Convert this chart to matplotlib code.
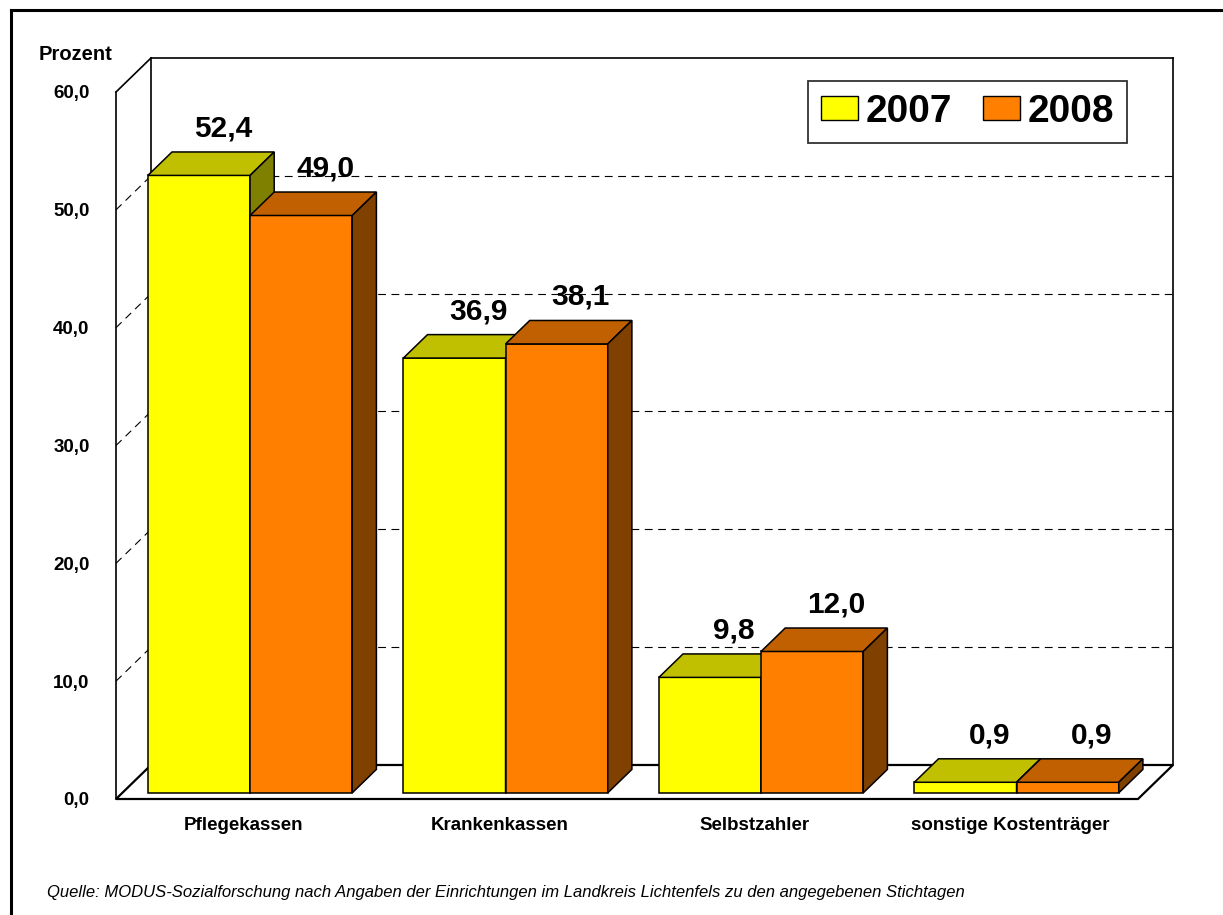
import matplotlib
matplotlib.use('Agg')
import matplotlib.pyplot as plt
from matplotlib.patches import Polygon, Patch
from matplotlib.lines import Line2D

plt.rcParams['font.family'] = ['Liberation Sans', 'DejaVu Sans']

categories = ['Pflegekassen', 'Krankenkassen', 'Selbstzahler',
              'sonstige Kostenträger']
years = ['2007', '2008']
values_2007 = [52.4, 36.9, 9.8, 0.9]
values_2008 = [49.0, 38.1, 12.0, 0.9]
yticks = [0, 10, 20, 30, 40, 50, 60]

front_colors = ['#FFFF00', '#FF8000']
top_colors = ['#C0C000', '#C06000']
side_colors = ['#808000', '#804000']

# depth of the pseudo-3D box, in data units (categories / percent)
DX = 0.137
DY = 2.886
ZF, ZB = 0.18, 0.87   # front and back depth of the bars


def proj(x, v, z):
    return x + z * DX, v + z * DY


def face(ax, pts, fc, zorder, lw=1.1, ec='black'):
    xy = [proj(*p) for p in pts]
    ax.add_patch(Polygon(xy, closed=True, facecolor=fc, edgecolor=ec,
                         linewidth=lw, joinstyle='miter', clip_on=False,
                         zorder=zorder))


def seg(ax, p0, p1, **kw):
    a, b = proj(*p0), proj(*p1)
    ax.plot([a[0], b[0]], [a[1], b[1]], color='black', clip_on=False, **kw)


fig = plt.figure(figsize=(12.23, 9.15), dpi=100)
ax = fig.add_axes([116 / 1223, 1 - 799 / 915, 1022 / 1223, 707 / 915])
ax.set_xlim(0, len(categories))
ax.set_ylim(0, 60)
for s in ax.spines.values():
    s.set_visible(False)
ax.patch.set_visible(False)

n = len(categories)
top = yticks[-1]

# walls and floor
face(ax, [(0, 0, 0), (n, 0, 0), (n, 0, 1), (0, 0, 1)], 'white', 1, lw=1.6)
seg(ax, (0, 0, 0), (0, top, 0), lw=1.2, zorder=1)
seg(ax, (0, top, 0), (0, top, 1), lw=1.2, zorder=1)
seg(ax, (0, 0, 1), (0, top, 1), lw=1.2, zorder=1)
seg(ax, (0, top, 1), (n, top, 1), lw=1.2, zorder=1)
seg(ax, (n, 0, 1), (n, top, 1), lw=1.2, zorder=1)
for v in yticks[1:-1]:
    seg(ax, (0, v, 1), (n, v, 1), lw=0.8, ls=(0, (7, 5)), zorder=1)
    seg(ax, (0, v, 0), (0, v, 1), lw=0.8, ls=(0, (7, 5)), zorder=1)

# bars, drawn left to right so later faces overlap earlier ones
z = 3
for i in range(n):
    for j, vals in enumerate([values_2007, values_2008]):
        v = vals[i]
        x0 = i + 0.1 + 0.4 * j
        x1 = x0 + 0.4
        face(ax, [(x0, 0, ZF), (x1, 0, ZF), (x1, v, ZF), (x0, v, ZF)],
             front_colors[j], z)
        face(ax, [(x0, v, ZF), (x1, v, ZF), (x1, v, ZB), (x0, v, ZB)],
             top_colors[j], z)
        face(ax, [(x1, 0, ZF), (x1, 0, ZB), (x1, v, ZB), (x1, v, ZF)],
             side_colors[j], z)
        lx, ly = proj((x0 + x1) / 2, v, ZB)
        ax.text(lx, ly + 2.0, f'{v:.1f}'.replace('.', ','), ha='center',
                va='center', fontsize=21.5, fontweight='bold', zorder=10)
        z += 1

ax.set_yticks(yticks)
ax.set_yticklabels([f'{v:.1f}'.replace('.', ',') for v in yticks],
                   fontsize=13.5, fontweight='bold')
ax.set_xticks([i + 0.5 for i in range(n)])
ax.set_xticklabels(categories, fontsize=13.5, fontweight='bold')
ax.tick_params(axis='y', length=0, pad=19)
ax.tick_params(axis='x', length=0, pad=13)

fig.text(75 / 1223, 1 - 55 / 915, 'Prozent', ha='center', va='center',
         fontsize=14.5, fontweight='bold')

handles = [Patch(facecolor=c, edgecolor='black', linewidth=1.0)
           for c in front_colors]
leg = fig.legend(handles, years, loc='upper left',
                 bbox_to_anchor=(808 / 1223, 1 - 81 / 915),
                 bbox_transform=fig.transFigure, ncol=2, frameon=True,
                 fancybox=False, borderaxespad=0, borderpad=0.33,
                 handlelength=0.95, handleheight=0.6, handletextpad=0.2,
                 columnspacing=0.8, prop={'size': 28, 'weight': 'bold'})
leg.get_frame().set_edgecolor('black')
leg.get_frame().set_linewidth(1.3)

fig.text(47 / 1223, 1 - 893 / 915,
         'Quelle: MODUS-Sozialforschung nach Angaben der Einrichtungen im '
         'Landkreis Lichtenfels zu den angegebenen Stichtagen',
         ha='left', va='center', fontsize=12, style='italic')

# outer frame (left and top edge only)
fig.add_artist(Line2D([11 / 1223, 11 / 1223], [0, 1 - 10 / 915],
                      transform=fig.transFigure, color='black', lw=2.2))
fig.add_artist(Line2D([11 / 1223, 1], [1 - 10 / 915, 1 - 10 / 915],
                      transform=fig.transFigure, color='black', lw=2.2))

fig.savefig('out.png', dpi=100)
